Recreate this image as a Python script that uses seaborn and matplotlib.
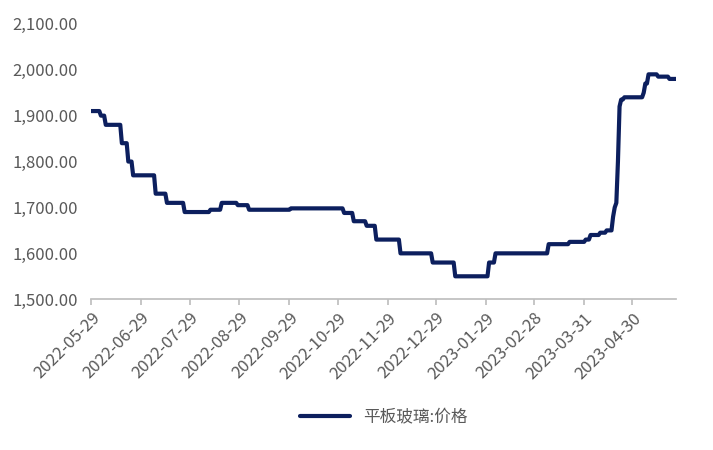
import matplotlib
matplotlib.use("Agg")
import matplotlib.pyplot as plt
import seaborn as sns
import pandas as pd
import matplotlib.dates as mdates

change_dates = ["2022-05-29","2022-06-04","2022-06-07","2022-06-17","2022-06-21","2022-06-24","2022-07-08",
                "2022-07-15","2022-07-26","2022-08-11","2022-08-18","2022-08-28","2022-09-04","2022-09-30",
                "2022-11-02","2022-11-08","2022-11-16","2022-11-22","2022-12-07","2022-12-27","2023-01-10",
                "2023-01-31","2023-02-04","2023-03-09","2023-03-22","2023-04-01","2023-04-04","2023-04-10",
                "2023-04-14","2023-04-18","2023-04-19","2023-04-20","2023-04-21","2023-04-22","2023-04-23",
                "2023-04-25","2023-05-07","2023-05-08","2023-05-10","2023-05-12","2023-05-16","2023-05-23","2023-05-27"]
change_values = [1910,1900,1880,1840,1800,1770,1730,1710,1690,1695,1710,1705,1695,1698,
                 1688,1670,1660,1630,1600,1580,1550,1580,1600,1620,1625,1630,1640,1645,
                 1650,1680,1700,1710,1800,1920,1935,1940,1950,1970,1990,1990,1985,1980,1980]
series_name = "平板玻璃:价格"
tick_dates = ["2022-05-29","2022-06-29","2022-07-29","2022-08-29","2022-09-29","2022-10-29","2022-11-29",
              "2022-12-29","2023-01-29","2023-02-28","2023-03-31","2023-04-30"]

s = pd.Series(change_values, index=pd.to_datetime(change_dates))
daily = s.resample("D").ffill()
df = pd.DataFrame({"date": daily.index, "value": daily.values, "series": series_name})

sns.set_theme(style="white")
plt.rcParams['font.family'] = ['Noto Sans CJK SC', 'DejaVu Sans']
fig, ax = plt.subplots(figsize=(7.13, 4.5), dpi=100)
sns.lineplot(data=df, x="date", y="value", hue="series", palette=["#0c1f5e"], linewidth=3, ax=ax)
ax.set_ylim(1500, 2100)
ax.set_yticks(range(1500, 2101, 100))
ax.set_yticklabels([f"{v:,.2f}" for v in range(1500, 2101, 100)], color="#595959", fontsize=12)
ax.set_xlim(pd.Timestamp("2022-05-29"), pd.Timestamp("2023-05-27"))
ax.set_xticks(pd.to_datetime(tick_dates))
ax.xaxis.set_major_formatter(mdates.DateFormatter("%Y-%m-%d"))
plt.setp(ax.get_xticklabels(), rotation=45, ha="right", rotation_mode="anchor", color="#595959", fontsize=12)
ax.tick_params(axis="x", length=4, color="#bfbfbf", bottom=True)
ax.set_xlabel(""); ax.set_ylabel("")
for sp in ["top", "right", "left"]:
    ax.spines[sp].set_visible(False)
ax.spines["bottom"].set_color("#bfbfbf")
ax.legend(loc="upper center", bbox_to_anchor=(0.5, -0.345), frameon=False, fontsize=12,
          handlelength=3, labelcolor="#595959")
fig.subplots_adjust(left=0.128, right=0.948, top=0.947, bottom=0.335)
fig.savefig("out.png", dpi=100)
